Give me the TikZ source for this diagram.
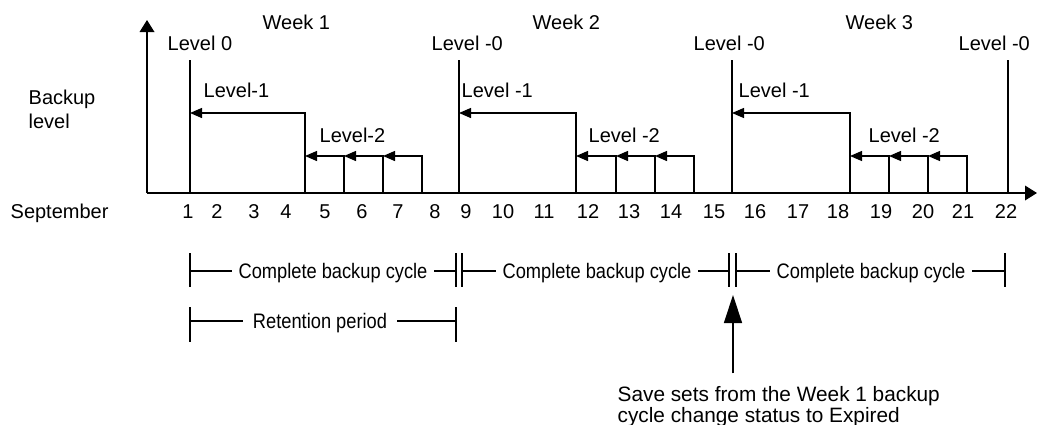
\documentclass[tikz,border=0pt]{standalone}
\usepackage{fontspec}
\setmainfont{Liberation Sans}
\newfontfamily\condfont[FakeStretch=0.87]{Liberation Sans}
\usepackage{tikz}
\usetikzlibrary{arrows.meta, calc}

\begin{document}
\begin{tikzpicture}[x=0.75pt, y=-0.75pt, line width=1pt,
		every node/.style={inner sep=0pt, font=\fontsize{15}{17}\selectfont},
		lbl/.style={anchor=base west},
		daynum/.style={anchor=base},
		lvl/.style={-{Triangle[length=9pt, width=7.5pt]}},
		axis/.style={-{Triangle[length=9pt, width=11pt]}},
		cyc/.style={anchor=base, inner xsep=4.5pt, font=\condfont\fontsize{15.75}{18}\selectfont},
		expired/.style={-{Triangle[length=21pt, width=13.5pt]}}]
		
		\useasboundingbox (0,0) rectangle (1040,425);
		
		%//axes
		\coordinate (o) at (147,193);
		\coordinate (ytop) at (147,20);
		\coordinate (xend) at (1037,193);
		\draw[axis] (o) -- (ytop);
		\draw[axis] (o) -- (xend);
		
		\node[lbl] (bkp1) at (28,104) {Backup};
		\node[lbl] (bkp2) at (28,128) {level};
		\node[lbl] (sept) at (10,218) {September};
		
		\foreach \d/\x in {1/188, 2/217, 3/254, 4/286, 5/325, 6/362, 7/398, 8/435, 9/466, 10/503, 11/544, 12/588, 13/629, 14/671, 15/714, 16/755, 17/798, 18/838, 19/881, 20/923, 21/963, 22/1006}
		\node[daynum] (d\d) at (\x,218) {\d};
		
		%//levels of each week
		\foreach \za/\zb/\zc/\zd/\ze in {190/305/344/383/422, 459/576/616/655/694, 732/850/889/928/967}
		{
			\draw (\za,60) -- (\za,193);
			\draw[lvl] (\zb,193) -- (\zb,113) -- (\za,113);
			\draw[lvl] (\zc,193) -- (\zc,156) -- (\zb,156);
			\draw[lvl] (\zd,193) -- (\zd,156) -- (\zc,156);
			\draw[lvl] (\ze,193) -- (\ze,156) -- (\zd,156);
		}
		\draw (1008,60) -- (1008,193);
		
		\node[lbl] (wk1) at (262,29) {Week 1};
		\node[lbl] (wk2) at (532,29) {Week 2};
		\node[lbl] (wk3) at (845,29) {Week 3};
		
		\node[lbl] (l0a) at (167,50) {Level 0};
		\node[lbl] (l0b) at (431,50) {Level -0};
		\node[lbl] (l0c) at (693,50) {Level -0};
		\node[lbl] (l0d) at (958,50) {Level -0};
		
		\node[lbl] (l1a) at (203,97) {Level-1};
		\node[lbl] (l1b) at (461,97) {Level -1};
		\node[lbl] (l1c) at (738,97) {Level -1};
		
		\node[lbl] (l2a) at (319,142) {Level-2};
		\node[lbl] (l2b) at (588,142) {Level -2};
		\node[lbl] (l2c) at (868,142) {Level -2};
		
		%//backup cycles
		\foreach \n/\a/\b/\c in {1/190/456/333, 2/462/729/597, 3/736/1005/871}
		{
			\coordinate (cl\n) at (\a,271);
			\coordinate (cr\n) at (\b,271);
			\draw (\a,253) -- (\a,287);
			\draw (\b,253) -- (\b,287);
			\node[cyc] (cyc\n) at (\c,278) {Complete backup cycle};
			\draw (cl\n) -- (cl\n -| cyc\n.west);
			\draw (cyc\n.east |- cr\n) -- (cr\n);
		}
		
		%//retention
		\coordinate (rl) at (190,321);
		\coordinate (rr) at (456,321);
		\draw (190,307) -- (190,342);
		\draw (456,307) -- (456,342);
		\node[cyc, inner xsep=7pt] (ret) at (320,328) {Retention period};
		\draw (rl) -- (rl -| ret.west);
		\draw (ret.east |- rr) -- (rr);
		
		%//expiry
		\node[lbl, font=\fontsize{15.6}{18}\selectfont] (save1) at (617,401) {Save sets from the Week 1 backup};
		\node[lbl, font=\fontsize{15.6}{18}\selectfont] (save2) at (617,422) {cycle change status to Expired};
		\coordinate (exp) at (733,295);
		\draw[expired] ($(save1.north -| exp)+(0,-12)$) -- (exp);
		
\end{tikzpicture}
\end{document}
